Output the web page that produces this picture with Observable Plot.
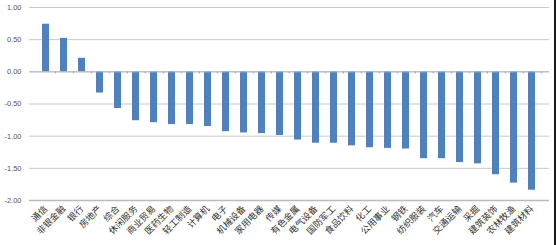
<!DOCTYPE html>
<html>
<head>
<meta charset="utf-8">
<script src="https://cdn.jsdelivr.net/npm/d3@7"></script>
<script src="https://cdn.jsdelivr.net/npm/@observablehq/plot@0.6"></script>
<style>
  html, body { margin: 0; padding: 0; background: #fff; }
  #wrap { position: relative; width: 556px; height: 245px; overflow: hidden; }
  #edge { position: absolute; right: 0; top: 0; width: 2px; height: 245px; background: #1a1a1a; }
</style>
</head>
<body>
<div id="wrap"><div id="chart"></div><div id="edge"></div></div>
<script>
const categories = ["通信","非银金融","银行","房地产","综合","休闲服务","商业贸易","医药生物","轻工制造","计算机","电子","机械设备","家用电器","传媒","有色金属","电气设备","国防军工","食品饮料","化工","公用事业","钢铁","纺织服装","汽车","交通运输","采掘","建筑装饰","农林牧渔","建筑材料"];
const values = [0.74,0.52,0.21,-0.33,-0.57,-0.76,-0.79,-0.82,-0.82,-0.85,-0.93,-0.95,-0.96,-0.99,-1.06,-1.11,-1.11,-1.15,-1.18,-1.19,-1.20,-1.35,-1.35,-1.41,-1.43,-1.60,-1.73,-1.84];
const yTicks = [1.0,0.5,0,-0.5,-1.0,-1.5,-2.0];

const data = categories.map((c, i) => ({cat: c, v: values[i]}));
const W = 556, H = 245, mL = 29, mR = 7, mT = 7, mB = 45;
const step = (W - mL - mR) / categories.length;

const chart = Plot.plot({
  width: W, height: H,
  marginLeft: mL, marginRight: mR, marginTop: mT, marginBottom: mB,
  style: {fontFamily: "Arial, 'Liberation Sans', sans-serif", background: "#fff", overflow: "visible"},
  x: {domain: categories, padding: 0.6, axis: null},
  y: {domain: [-2, 1], ticks: yTicks, tickFormat: d => d.toFixed(2), label: null},
  marks: [
    Plot.gridY(yTicks, {stroke: "#c8c8c8", strokeOpacity: 1, strokeWidth: 1}),
    Plot.ruleX([0], {frameAnchor: "left", stroke: "#b8b8b8"}),
    Plot.axisY(yTicks, {tickSize: 0, tickPadding: 8, fontSize: 7.5, fill: "#555", tickFormat: d => d.toFixed(2), label: null}),
    Plot.barY(data, {x: "cat", y: "v", fill: "#4f81bd"}),
    Plot.ruleY([0], {stroke: "#b8b8b8"}),
    Plot.ruleX(categories, {x: d => d, y1: 0, y2: -0.035, dx: step / 2, stroke: "#aaa"}),
    Plot.ruleY([-2], {stroke: "#bbb", strokeWidth: 1.5}),
    Plot.text(categories, {
      x: d => d, frameAnchor: "bottom", rotate: -45, textAnchor: "end",
      dy: 9, dx: 2, fontSize: 9, fill: "#333",
      fontFamily: "'Noto Sans CJK SC', sans-serif"
    })
  ]
});
document.getElementById("chart").append(chart);
</script>
</body>
</html>
